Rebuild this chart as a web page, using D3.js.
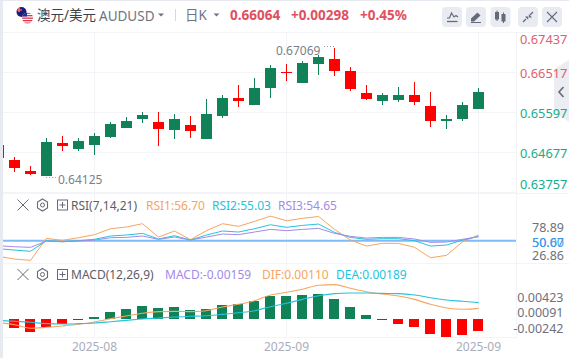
<!DOCTYPE html>
<html><head><meta charset="utf-8">
<script src="https://cdn.jsdelivr.net/npm/d3@7/dist/d3.min.js"></script>
<style>
html,body{margin:0;padding:0;background:#fff;overflow:hidden}
svg{display:block}
text{font-family:"Noto Sans","Noto Sans CJK SC",sans-serif}
</style></head><body><svg id="c" width="569" height="358"></svg>
<script>
// index -1 is the candle cut off by the left edge
const indices = d3.range(-1, 30);
const open  = [.64838,.64493,.64240,.64130,.64891,.64746,.64838,.65022,.65229,.65436,.65367,.65183,.65298,.64976,.65505,.65919,.65758,.66149,.66517,.66264,.66701,.66816,.66540,.66034,.65850,.65873,.65988,.65735,.65390,.65436,.65666];
const high  = [.64880,.64569,.64362,.65006,.65045,.65006,.65121,.65360,.65482,.65597,.65597,.65551,.65505,.65896,.65988,.66218,.66379,.66678,.66701,.66770,.66908,.67069,.66632,.66218,.66034,.66172,.66287,.66057,.65528,.65827,.66149];
const low   = [.64500,.64224,.64145,.64125,.64700,.64700,.64608,.64999,.65229,.65344,.64815,.64976,.64999,.64976,.65459,.65719,.65758,.65919,.66310,.66264,.66448,.66425,.66080,.65873,.65758,.65827,.65758,.65252,.65206,.65390,.65666];
const close = [.64539,.64316,.64171,.64907,.64815,.64930,.65045,.65321,.65390,.65528,.65206,.65436,.65160,.65551,.65919,.65850,.66149,.66609,.66483,.66724,.66862,.66540,.66126,.65896,.65988,.65988,.65827,.65390,.65436,.65758,.66064];
const isDown = [1,1,1,0,1,0,0,0,0,0,1,0,1,0,0,1,0,0,1,0,0,1,1,1,0,0,1,1,0,0,0];
const rsi1 = [31.6,28.4,26.86,52.7,50.4,53.5,57.1,64.1,66.1,70.0,54.3,61.4,51.2,61.8,70.0,66.9,72.7,78.89,73.5,76.3,78.5,63.3,50.8,43.7,46.9,46.9,42.2,30.0,32.7,48.8,56.70];
const rsi2 = [40.6,39.0,37.5,50.0,48.8,50.0,51.6,55.5,56.7,58.6,52.0,55.9,50.8,56.7,61.4,60.2,64.1,68.8,65.7,68.0,69.6,59.8,53.9,51.6,52.4,52.4,50.0,43.7,44.9,50.8,55.03];
const rsi3 = [44.1,42.9,42.2,49.6,48.8,49.6,50.8,53.5,53.9,55.5,51.6,54.3,50.8,54.3,57.8,57.1,60.2,63.3,61.8,63.3,64.5,58.6,55.1,53.1,53.9,53.9,52.0,48.0,48.4,51.6,54.65];
const macdHist = [-.00120,-.00173,-.00107,-.00067,-.00013,.00027,.00093,.00133,.00173,.00147,.00160,.00120,.00133,.00187,.00200,.00240,.00307,.00307,.00320,.00333,.00267,.00160,.00053,-.00013,-.00067,-.00107,-.00200,-.00240,-.00213,-.00159];
const dif = [-.00049,-.00076,-.00124,-.00111,-.00093,-.00071,-.00040,.00004,.00040,.00076,.00098,.00102,.00098,.00111,.00160,.00196,.00244,.00320,.00356,.00396,.00449,.00458,.00409,.00364,.00333,.00307,.00262,.00196,.00147,.00129,.00142];
const dea = [-.00018,-.00031,-.00044,-.00062,-.00067,-.00062,-.00053,-.00036,-.00018,0,.00013,.00027,.00036,.00044,.00062,.00084,.00111,.00164,.00209,.00262,.00311,.00338,.00347,.00347,.00342,.00338,.00320,.00284,.00253,.00236,.00218];
const priceTicks = [.67437,.66517,.65597,.64677,.63757];
const rsiTickLabels = ["78.89","26.86"];
const macdTickLabels = ["0.00423","0.00091","-0.00242"];
const dateTicks = [[5,"2025-08"],[17,"2025-09"],[29,"2025-09"]];

const GREEN="#118257",RED="#ff0000",GRID="#f3f4f8",ORANGE="#f7a55e",CYAN="#25c3de",PURPLE="#a48ae8",
      TXT="#6e7280",UP_LABEL="#16ad8c",DN_LABEL="#e0606d",HEAD_RED="#e0505f",BLUE="#7dbcf6";

const svg=d3.select("#c");
const x=d3.scaleLinear().domain([0,29]).range([14.5,478.5]);
const yP=d3.scaleLinear().domain([.63757,.67437]).range([192,32]);
const yR=d3.scaleLinear().domain([0,100]).range([283.2,198.2]);
const yM=d3.scaleLinear().domain([-.00242,.00423]).range([337.15,287.27]);

const T=(px,py,s,o={})=>svg.append("text").attr("x",px).attr("y",py).text(s)
  .attr("font-size",o.size||12).attr("fill",o.fill||TXT).attr("font-weight",o.weight||400)
  .attr("text-anchor",o.anchor||"start").attr("dominant-baseline","central");

// frame
svg.append("rect").attr("width",3).attr("height",358).attr("fill","#e7eaf1");
svg.append("rect").attr("width",569).attr("height",1).attr("fill","#e7eaf1");
const hline=(y,x2=569)=>svg.append("line").attr("x1",3).attr("x2",x2).attr("y1",y).attr("y2",y).attr("stroke",GRID).attr("shape-rendering","crispEdges");
hline(32.5);hline(193.5);hline(263.5);hline(337.5,516);
svg.append("line").attr("x1",516.5).attr("x2",516.5).attr("y1",32).attr("y2",338).attr("stroke",GRID).attr("shape-rendering","crispEdges");
svg.selectAll(".vg").data(dateTicks).join("line").attr("x1",d=>x(d[0])).attr("x2",d=>x(d[0])).attr("y1",32).attr("y2",337).attr("stroke",GRID).attr("shape-rendering","crispEdges");
svg.selectAll(".hg").data(priceTicks.slice(1)).join("line").attr("x1",3).attr("x2",516).attr("y1",d=>Math.round(yP(d))+.5).attr("y2",d=>Math.round(yP(d))+.5).attr("stroke",GRID).attr("shape-rendering","crispEdges");

// collapse tab sits under the axis labels
svg.append("path").attr("d","M569,60L554,69L554,111L569,122Z").attr("fill","#ecedf2");
svg.append("path").attr("d","M563.5,87L559,92L563.5,97").attr("fill","none").attr("stroke","#666a76").attr("stroke-width",1.6);

svg.append("defs").append("clipPath").attr("id","cl").append("rect").attr("x",3).attr("y",32).attr("width",513).attr("height",306);
const plot=svg.append("g").attr("clip-path","url(#cl)");

// candles
const candles=indices.map((d,i)=>({i:d,o:open[i],h:high[i],l:low[i],c:close[i],down:isDown[i]}));
const cg=plot.append("g").attr("shape-rendering","crispEdges");
cg.selectAll(".w").data(candles).join("line").attr("x1",d=>x(d.i)).attr("x2",d=>x(d.i))
  .attr("y1",d=>yP(d.h)).attr("y2",d=>yP(d.l)).attr("stroke",d=>d.down?RED:GREEN);
cg.selectAll(".b").data(candles).join("rect").attr("x",d=>x(d.i)-5.5).attr("width",11)
  .attr("y",d=>Math.round(yP(Math.max(d.o,d.c))))
  .attr("height",d=>Math.max(1,Math.round(yP(Math.min(d.o,d.c)))-Math.round(yP(Math.max(d.o,d.c)))))
  .attr("fill",d=>d.down?RED:GREEN);

// hi / lo annotation
T(276,50,"0.67069",{fill:"#7b7f8c"});
T(58,179.5,"0.64125",{fill:"#7b7f8c"});
svg.append("line").attr("x1",324).attr("x2",334).attr("y1",46.5).attr("y2",46.5).attr("stroke","#9a9da8").attr("stroke-dasharray","1 2");
svg.append("line").attr("x1",46).attr("x2",57).attr("y1",177.5).attr("y2",177.5).attr("stroke","#9a9da8").attr("stroke-dasharray","1 2");

// RSI
const ln=(sc,curve)=>d3.line().x((d,i)=>x(indices[i])).y(d=>sc(d)).curve(curve||d3.curveLinear);
plot.append("line").attr("x1",3).attr("x2",516).attr("y1",yR(50)).attr("y2",yR(50)).attr("stroke",BLUE).attr("stroke-width",2);
[[rsi1,ORANGE],[rsi2,CYAN],[rsi3,PURPLE]].forEach(([s,c])=>plot.append("path").attr("d",ln(yR)(s)).attr("fill","none").attr("stroke",c).attr("stroke-width",1));

// MACD
plot.append("g").attr("shape-rendering","crispEdges").selectAll("rect").data(macdHist).join("rect")
  .attr("x",(d,i)=>x(i)-5.5).attr("width",10)
  .attr("y",d=>Math.round(Math.min(yM(d),yM(0))))
  .attr("height",d=>Math.max(1,Math.round(Math.abs(yM(d)-yM(0)))))
  .attr("fill",d=>d<0?RED:GREEN);
[[dif,ORANGE],[dea,CYAN]].forEach(([s,c])=>plot.append("path").attr("d",ln(yM,d3.curveMonotoneX)(s)).attr("fill","none").attr("stroke",c).attr("stroke-width",1.1));

// axis labels
priceTicks.forEach((v,i)=>{
  const ly=Math.max(39,Math.min(184,yP(v)+1));
  T(520,ly,d3.format(".5f")(v),{size:12.8,fill:v>.66?DN_LABEL:UP_LABEL});
});
T(564,227,rsiTickLabels[0],{size:12.5,anchor:"end"});
T(564,255,rsiTickLabels[1],{size:12.5,anchor:"end"});
T(564,242,"50.00",{size:12.5,anchor:"end",fill:"#4f9fe8"});
T(564,242.5,"50.67",{size:12.5,anchor:"end",fill:"#3f98ea"});
macdTickLabels.forEach((s,i)=>T(563.5,[297,312.3,328.3][i],s,{size:12.5,anchor:"end"}));
dateTicks.forEach(d=>T(x(d[0]),346,d[1],{anchor:"middle",fill:"#a9adba"}));

// header
const fc=svg.append("defs");
fc.append("clipPath").attr("id","fa").append("circle").attr("cx",21.5).attr("cy",12).attr("r",5);
fc.append("clipPath").attr("id","fu").append("circle").attr("cx",27.5).attr("cy",18).attr("r",5.5);
const fa=svg.append("g").attr("clip-path","url(#fa)");
fa.append("rect").attr("x",16).attr("y",6).attr("width",12).attr("height",12).attr("fill","#16207a");
fa.append("rect").attr("x",16).attr("y",9).attr("width",6).attr("height",2).attr("fill","#d9354a");
fa.append("rect").attr("x",18).attr("y",7).attr("width",2).attr("height",5).attr("fill","#e66");
const fu=svg.append("g").attr("clip-path","url(#fu)");
fu.append("rect").attr("x",21).attr("y",12).attr("width",13).attr("height",12).attr("fill","#fff");
[12.5,15,17.5,20,22.5].forEach(y=>fu.append("rect").attr("x",21).attr("y",y).attr("width",13).attr("height",1.3).attr("fill","#d9354a"));
fu.append("rect").attr("x",21).attr("y",12).attr("width",6).attr("height",4.5).attr("fill","#2a2f85");

T(37,14.5,"澳元/美元",{size:13.5,fill:"#3c3f47"});
T(99,15.5,"AUDUSD",{size:13.5,fill:"#70747f"});
const caret=(cx)=>svg.append("path").attr("d",`M${cx-3},13.5L${cx+3},13.5L${cx},16.5Z`).attr("fill","#70747f");
caret(161);caret(216.5);
svg.append("line").attr("x1",175.5).attr("x2",175.5).attr("y1",9).attr("y2",21).attr("stroke","#d5d8de");
T(185,14.5,"日K",{size:13.5,fill:"#70747f"});
T(230,14.5,"0.66064",{size:13.5,weight:700,fill:HEAD_RED});
T(291,14.5,"+0.00298",{size:13.5,weight:700,fill:HEAD_RED});
T(360,14.5,"+0.45%",{size:13.5,weight:700,fill:HEAD_RED});

// toolbar
[442,466,490.5,518,542].forEach(bx=>svg.append("rect").attr("x",bx).attr("y",7).attr("width",20).attr("height",20).attr("rx",4).attr("fill","#e9ebf2"));
const ic="#666a76";
svg.append("path").attr("d","M447,18L449.5,18L451.5,13L454,17L456,15.5L458,17").attr("fill","none").attr("stroke",ic).attr("stroke-width",1.2);
svg.append("line").attr("x1",447).attr("x2",457.5).attr("y1",21.5).attr("y2",21.5).attr("stroke",ic).attr("stroke-width",1.3);
svg.append("path").attr("d","M471,21.5L471,18.5L477.5,12.5L480.5,15.5L474,21.5Z").attr("fill",ic);
svg.append("line").attr("x1",471).attr("x2",481).attr("y1",22.5).attr("y2",22.5).attr("stroke",ic);
svg.append("rect").attr("x",495).attr("y",12).attr("width",4).attr("height",7.5).attr("fill",ic);
svg.append("line").attr("x1",497).attr("x2",497).attr("y1",10.5).attr("y2",21).attr("stroke",ic);
svg.append("rect").attr("x",501.5).attr("y",14).attr("width",4).attr("height",7.5).attr("fill",ic);
svg.append("line").attr("x1",503.5).attr("x2",503.5).attr("y1",12.5).attr("y2",23).attr("stroke",ic);
svg.append("path").attr("d","M523,22L526,19M533,12L530,15").attr("stroke",ic).attr("stroke-width",1.3);
svg.append("path").attr("d","M525,16.5L528.2,16.5L528.2,19.7Z M532,17.5L528.8,17.5L528.8,14.3Z").attr("fill",ic);
svg.append("path").attr("d","M547,12L557,22M557,12L547,22").attr("stroke",ic).attr("stroke-width",1.1);

// indicator legend rows
function row(cy,entries){
  const c="#666a76";
  svg.append("path").attr("d",`M17.5,${cy-5.5}L28.5,${cy+5.5}M28.5,${cy-5.5}L17.5,${cy+5.5}`).attr("stroke",c).attr("stroke-width",1);
  svg.append("path").attr("d",`M42.5,${cy-6}L47.5,${cy-3}L47.5,${cy+3}L42.5,${cy+6}L37.5,${cy+3}L37.5,${cy-3}Z`).attr("fill","none").attr("stroke",c).attr("stroke-width",1.1);
  svg.append("circle").attr("cx",42.5).attr("cy",cy).attr("r",2).attr("fill","none").attr("stroke",c);
  svg.append("rect").attr("x",57.5).attr("y",cy-5).attr("width",10).attr("height",10).attr("fill","none").attr("stroke",c);
  svg.append("path").attr("d",`M62.5,${cy-3}L62.5,${cy+3}M59.5,${cy}L65.5,${cy}`).attr("stroke",c);
  entries.forEach(e=>T(e[0],cy,e[1],{size:e[3]||12,fill:e[2]}));
}
row(205,[[71,"RSI(7,14,21)","#5b5e69"],[146,"RSI1:56.70",ORANGE],[212,"RSI2:55.03",CYAN],[278,"RSI3:54.65",PURPLE]]);
row(274.5,[[71,"MACD(12,26,9)","#5b5e69"],[165,"MACD:-0.00159",PURPLE],[262,"DIF:0.00110",ORANGE],[336,"DEA:0.00189",CYAN]]);
</script></body></html>
